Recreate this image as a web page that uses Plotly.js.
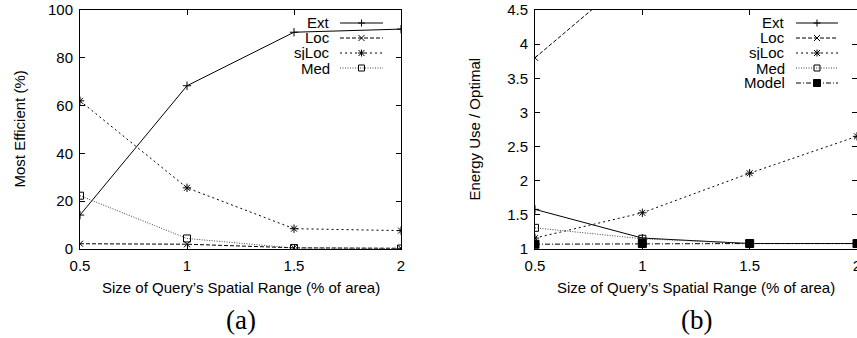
<!DOCTYPE html>
<html>
<head>
<meta charset="utf-8">
<script src="https://cdn.plot.ly/plotly-3.0.1.min.js"></script>
<style>html,body{margin:0;padding:0;background:#fff;}#chart{width:857px;height:338px;}</style>
</head>
<body>
<div id="chart"></div>
<script>
// ---- data ----
const xSizes = [0.5, 1, 1.5, 2];

// (a) Most Efficient (%)
const effExt   = [14.2, 68.3, 90.7, 92.0];
const effLoc   = [2.2, 2.0, 0.5, 0.3];
const effSjLoc = [62.0, 25.6, 8.5, 7.7];
const effMed   = [22.3, 4.4, 0.4, 0.2];

// (b) Energy Use / Optimal
const engExt   = [1.58, 1.16, 1.08, 1.08];
const engLoc   = [3.8, 5.13, 6.4, 7.6];
const engSjLoc = [1.16, 1.53, 2.11, 2.65];
const engMed   = [1.31, 1.15, 1.08, 1.08];
const engModel = [1.07, 1.08, 1.08, 1.08];

const namesA = ['Ext', 'Loc', 'sjLoc', 'Med'];
const namesB = ['Ext', 'Loc', 'sjLoc', 'Med', 'Model'];

const xTitle = "Size of Query\u2019s Spatial Range (% of area)";
const yTitleA = 'Most Efficient (%)';
const yTitleB = 'Energy Use / Optimal';

// ---- styles ----
const FONT = 'Liberation Sans, Arial, Helvetica, sans-serif';
const SERIF = 'Liberation Serif, Times New Roman, serif';
const styles = {
  Ext:   {color: '#000', dash: 'solid',           symbol: 'cross-thin-open', size: 6, path: 'M-3.5,0H3.5M0,-3.5V3.5'},
  Loc:   {color: '#000', dash: '4px,2px',         symbol: 'x-thin-open',     size: 6, path: 'M-3,-3L3,3M-3,3L3,-3'},
  sjLoc: {color: '#000', dash: '2px,3px',         symbol: 'asterisk-open',   size: 7, path: 'M-3.5,0H3.5M0,-3.5V3.5M-3,-3L3,3M-3,3L3,-3'},
  Med:   {color: '#444', dash: '1px,1.5px',       symbol: 'square-open',     size: 7, path: 'M-3,-3H3V3H-3Z'},
  Model: {color: '#000', dash: '5px,2px,1px,2px', symbol: 'square',          size: 8, path: 'M-3.5,-3.5H3.5V3.5H-3.5Z', fill: true}
};

function trace(name, ys, xa, ya) {
  const s = styles[name];
  return {
    x: xSizes, y: ys, name: name, xaxis: xa, yaxis: ya,
    type: 'scatter', mode: 'lines+markers', showlegend: false,
    line: {color: s.color, width: 1, dash: s.dash},
    marker: {symbol: s.symbol, size: s.size, color: '#000', line: {color: '#000', width: 1}},
    cliponaxis: true
  };
}

const data = [
  trace('Ext', effExt, 'x', 'y'),
  trace('Loc', effLoc, 'x', 'y'),
  trace('sjLoc', effSjLoc, 'x', 'y'),
  trace('Med', effMed, 'x', 'y'),
  trace('Ext', engExt, 'x2', 'y2'),
  trace('Loc', engLoc, 'x2', 'y2'),
  trace('sjLoc', engSjLoc, 'x2', 'y2'),
  trace('Med', engMed, 'x2', 'y2'),
  trace('Model', engModel, 'x2', 'y2')
];

// ---- geometry helpers (pixel -> paper) ----
const W = 857, H = 338, PT = 10, PB = 249;
const px = x => x / W;
const py = y => (PB - y) / (PB - PT);

const shapes = [];
const annotations = [];

function buildLegend(names, textRight, lineX0, lineX1, rowY0, rowGap) {
  names.forEach((n, i) => {
    const s = styles[n];
    const yy = py(rowY0 + i * rowGap);
    annotations.push({
      text: n, xref: 'paper', yref: 'paper', x: px(textRight), y: yy,
      xanchor: 'right', yanchor: 'middle', showarrow: false,
      font: {family: FONT, size: 15, color: '#000'}, height: 15
    });
    shapes.push({
      type: 'line', xref: 'paper', yref: 'paper',
      x0: px(lineX0), x1: px(lineX1), y0: yy, y1: yy,
      line: {color: s.color, width: 1, dash: s.dash}
    });
    const cx = (lineX0 + lineX1) / 2;
    shapes.push({
      type: 'path', xref: 'paper', yref: 'paper',
      xsizemode: 'pixel', ysizemode: 'pixel',
      xanchor: px(cx), yanchor: yy, path: s.path,
      line: {color: '#000', width: 1},
      fillcolor: s.fill ? '#000' : 'rgba(0,0,0,0)'
    });
  });
}
buildLegend(namesA, 332, 340, 383, 23, 15);
buildLegend(namesB, 787, 796, 838, 23, 15);

// axis titles & captions
function addText(t, x, y, size, family, angle) {
  annotations.push({
    text: t, xref: 'paper', yref: 'paper', x: px(x), y: py(y),
    xanchor: 'center', yanchor: 'middle', showarrow: false, textangle: angle || 0,
    font: {family: family, size: size, color: '#000'}
  });
}
addText(xTitle, 240.5, 287, 15, FONT);
addText(xTitle, 696, 287, 15, FONT);
addText(yTitleA, 19, 129.5, 15, FONT, -90);
addText(yTitleB, 474, 129.5, 15, FONT, -90);
addText('(a)', 240.5, 320, 27, SERIF);
addText('(b)', 696, 320, 27, SERIF);

function axisBase(extra) {
  return Object.assign({
    showline: true, linecolor: '#000', linewidth: 1, mirror: 'allticks',
    ticks: 'inside', ticklen: 5, tickwidth: 1, tickcolor: '#000',
    showgrid: false, zeroline: false, fixedrange: true,
    ticklabeloverflow: 'allow',
    tickfont: {family: FONT, size: 15, color: '#000'}
  }, extra);
}

const layout = {
  width: W, height: H,
  margin: {l: 0, r: 0, t: PT, b: H - PB, pad: 0},
  paper_bgcolor: '#fff', plot_bgcolor: '#fff',
  showlegend: false,
  xaxis:  axisBase({domain: [px(80), px(401)], range: [0.5, 2], tick0: 0.5, dtick: 0.5, anchor: 'y', ticklabelstandoff: 3}),
  yaxis:  axisBase({domain: [0, 1], range: [0, 100], tick0: 0, dtick: 20, anchor: 'x', ticklabelstandoff: 3}),
  xaxis2: axisBase({domain: [px(535), 1], range: [0.5, 2], tick0: 0.5, dtick: 0.5, anchor: 'y2', ticklabelstandoff: 3}),
  yaxis2: axisBase({domain: [0, 1], range: [1, 4.5], tick0: 1, dtick: 0.5, anchor: 'x2', ticklabelstandoff: 3}),
  shapes: shapes,
  annotations: annotations
};

Plotly.newPlot('chart', data, layout, {displayModeBar: false, staticPlot: true});
</script>
</body>
</html>
